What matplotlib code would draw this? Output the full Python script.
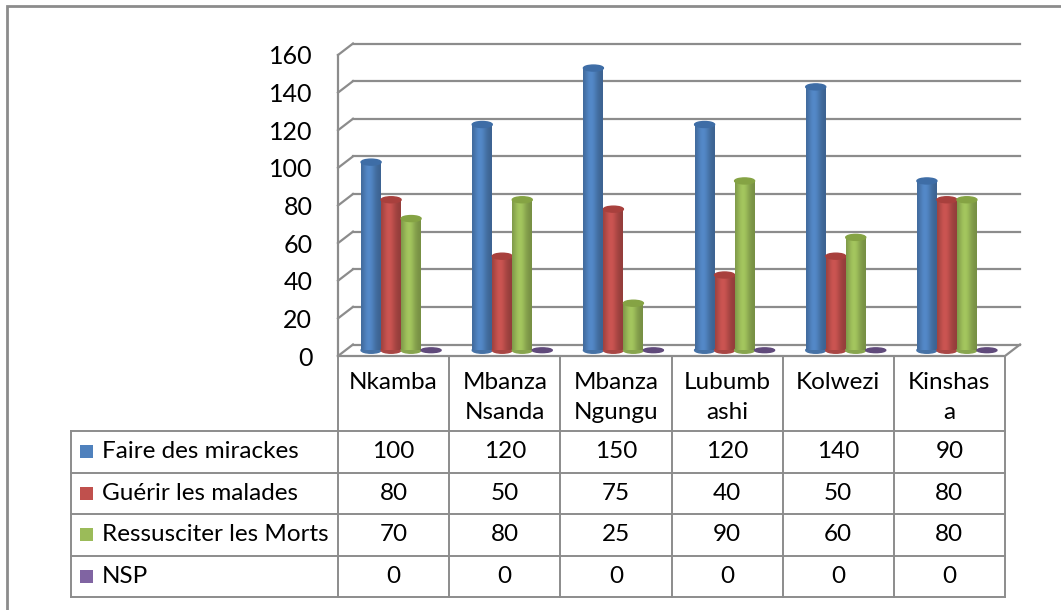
import numpy as np
import matplotlib
matplotlib.use("Agg")
import matplotlib.pyplot as plt
from matplotlib.patches import Ellipse, Rectangle
from matplotlib.colors import to_rgb

plt.rcParams["font.family"] = ["Lato", "DejaVu Sans"]
FS = 17.5

# données
categories = ["Nkamba", "Mbanza\nNsanda", "Mbanza\nNgungu", "Lubumb\nashi", "Kolwezi", "Kinshas\na"]
series = ["Faire des mirackes", "Guérir les malades", "Ressusciter les Morts", "NSP"]
faire = [100, 120, 150, 120, 140, 90]
guerir = [80, 50, 75, 40, 50, 80]
ressusciter = [70, 80, 25, 90, 60, 80]
nsp = [0, 0, 0, 0, 0, 0]
values = [faire, guerir, ressusciter, nsp]
colors = ["#4F81BD", "#C0504D", "#9BBB59", "#8064A2"]
tops = ["#3E6DA6", "#A8403D", "#85A344", "#604A7B"]
yticks = np.arange(0, 161, 20)

W, H = 1061, 610
fig = plt.figure(figsize=(W / 100, H / 100), dpi=100)
grid = "#8C8C8C"

# cadre extérieur
fig.add_artist(Rectangle((7 / W, -0.1), 2, 1 - 6 / H + 0.1, transform=fig.transFigure,
                         fill=False, ec=grid, lw=2))

# zone du graphique (plan avant)
x0, x1, yb, yt = 338, 1005, 356, 55
ax = fig.add_axes([x0 / W, 1 - yb / H, (x1 - x0) / W, (yb - yt) / H])
ax.set_xlim(0, 6)
ax.set_ylim(0, 160)
pxu = (x1 - x0) / 6.0          # pixels par catégorie
pyu = (yb - yt) / 160.0        # pixels par unité
ddx = 15 / pxu                 # profondeur en x
ddv = 11.5 / pyu               # profondeur en y

# murs / quadrillage
for v in yticks:
    ax.plot([ddx, 6 + ddx], [v + ddv, v + ddv], color=grid, lw=1.6, zorder=1, clip_on=False)
    ax.plot([0, ddx], [v, v + ddv], color=grid, lw=1.6, zorder=1, clip_on=False)
ax.plot([0, 0], [0, 160], color=grid, lw=1.6, zorder=1, clip_on=False)
ax.plot([0, 6, 6 + ddx], [0, 0, ddv], color=grid, lw=1.6, zorder=1, clip_on=False)

# barres cylindriques
w = 20 / pxu
eh = 6 / pyu
t = np.linspace(0, 1, 48)
shade = 0.76 + 0.30 * np.exp(-((t - 0.4) / 0.33) ** 2)
base = ddv / 2
z = 3
for i in range(len(categories)):
    for j, (vals, c, ct) in enumerate(zip(values, colors, tops)):
        xs = i + 0.5 + ddx / 2 - 2 * w + j * w
        v = vals[i]
        rgb = np.array(to_rgb(c))
        if v > 0:
            grad = np.clip(rgb[None, :] * shade[:, None], 0, 1)[None, :, :]
            ax.add_patch(Ellipse((xs + w / 2, base), w, eh, color=rgb * 0.88, zorder=z, clip_on=False))
            ax.imshow(grad, extent=(xs, xs + w, base, base + v), aspect="auto",
                      interpolation="bilinear", zorder=z + 0.1)
            ax.add_patch(Ellipse((xs + w / 2, base + v), w, eh, color=ct, zorder=z + 0.2, clip_on=False))
        else:
            ax.add_patch(Ellipse((xs + w / 2, base), w, eh * 0.8, color=ct, zorder=z + 0.2, clip_on=False))
        z += 1

ax.set_xlim(0, 6)
ax.set_ylim(0, 160)
for s in ax.spines.values():
    s.set_visible(False)
ax.set_xticks([])
ax.set_yticks(yticks)
ax.tick_params(axis="y", length=0, pad=18.5, labelsize=FS + 0.5)
ax.patch.set_alpha(0)

# tableau de données
ty0, ty1 = 597, 356
rh = 41.5
tx0 = 71
L = (x0 - tx0) / pxu
ntop = (ty0 - ty1) / rh
tax = fig.add_axes([tx0 / W, 1 - ty0 / H, (x1 - tx0) / W, (ty0 - ty1) / H])
tax.set_xlim(-L, 6)
tax.set_ylim(0, ntop)
tax.axis("off")
for r in range(5):
    tax.plot([-L, 6], [r, r], color=grid, lw=1.4, clip_on=False)
tax.plot([-L, -L], [0, 4], color=grid, lw=1.4, clip_on=False)
for k in range(7):
    tax.plot([k, k], [0, ntop], color=grid, lw=1.4, clip_on=False)

for r, (name, vals, c) in enumerate(zip(series, values, colors)):
    yc = 3.5 - r
    ks = 13 / pxu
    tax.add_patch(Rectangle((-L + 9 / pxu, yc - 6.5 / rh), ks, 13 / rh, color=c, lw=0))
    tax.text(-L + 31 / pxu, yc, name, fontsize=FS, va="center", ha="left")
    for i, v in enumerate(vals):
        tax.text(i + 0.5, yc, str(v), fontsize=FS, va="center", ha="center")

for i, cat in enumerate(categories):
    tax.text(i + 0.5, ntop - 16 / rh, cat, fontsize=FS, va="top", ha="center", linespacing=1.55)

fig.savefig("out.png", dpi=100)
